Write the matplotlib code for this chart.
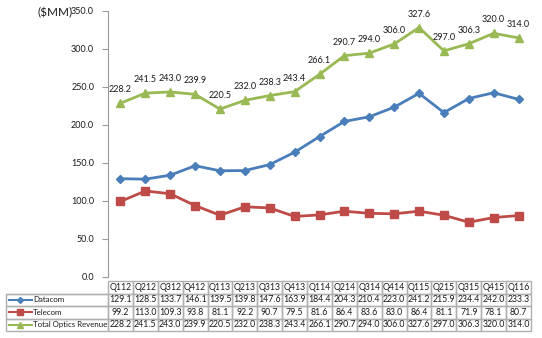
import matplotlib
matplotlib.use("Agg")
import matplotlib.pyplot as plt
from matplotlib.table import Table
from matplotlib.lines import Line2D

plt.rcParams['font.family'] = ['Lato', 'DejaVu Sans']

quarters = ["Q112", "Q212", "Q312", "Q412", "Q113", "Q213", "Q313", "Q413",
            "Q114", "Q214", "Q314", "Q414", "Q115", "Q215", "Q315", "Q415", "Q116"]
datacom = [129.1, 128.5, 133.7, 146.1, 139.5, 139.8, 147.6, 163.9, 184.4,
           204.3, 210.4, 223.0, 241.2, 215.9, 234.4, 242.0, 233.3]
telecom = [99.2, 113.0, 109.3, 93.8, 81.1, 92.2, 90.7, 79.5, 81.6, 86.4,
           83.6, 83.0, 86.4, 81.1, 71.9, 78.1, 80.7]
total = [228.2, 241.5, 243.0, 239.9, 220.5, 232.0, 238.3, 243.4, 266.1,
         290.7, 294.0, 306.0, 327.6, 297.0, 306.3, 320.0, 314.0]
series_names = ["Datacom", "Telecom", "Total Optics Revenue"]
yticks = [0, 50, 100, 150, 200, 250, 300, 350]

BLUE = "#4A7EBB"
RED = "#BE4B48"
GREEN = "#98B954"
colors = [BLUE, RED, GREEN]
markers = ["D", "s", "^"]
msizes = [4, 6, 6]

W, H = 542, 338
fig = plt.figure(figsize=(W / 100, H / 100), dpi=100)
ax_l, ax_r, ax_b, ax_t = 108, 531, 277, 10.5
ax = fig.add_axes([ax_l / W, (H - ax_b) / H, (ax_r - ax_l) / W, (ax_b - ax_t) / H])

n = len(quarters)
x = list(range(n))
for vals, c, m, ms in zip([datacom, telecom, total], colors, markers, msizes):
    ax.plot(x, vals, color=c, lw=2, marker=m, ms=ms, mfc=c, mec=c, zorder=3)

for xi, v in zip(x, total):
    ax.annotate(f"{v:.1f}", (xi, v), xytext=(0, 6.5), textcoords="offset points",
                ha="center", va="bottom", fontsize=6.5, color="#1a1a1a")

ax.set_xlim(-0.5, n - 0.5)
ax.set_ylim(0, 350)
ax.set_yticks(yticks)
ax.set_yticklabels([f"{t:.1f}" for t in yticks], fontsize=6.5, color="#1a1a1a")
ax.set_xticks([])
for s in ["top", "right", "bottom"]:
    ax.spines[s].set_visible(False)
ax.spines["left"].set_color("#9A9A9A")
ax.tick_params(axis="y", direction="out", length=4, color="#9A9A9A", pad=6)

fig.text(73 / W, (H - 13) / H, "($MM)", fontsize=8.5, ha="right", va="center", color="#1a1a1a")

# data table
axw = ax_r - ax_l
axh = ax_b - ax_t
t_left, t_top, t_bot = 6, 281, 331
x0 = (t_left - ax_l) / axw
y1 = (ax_b - t_top) / axh
y0 = (ax_b - t_bot) / axh
tbl = Table(ax, bbox=[x0, y0, (ax_r - t_left) / axw, y1 - y0])
label_w = ax_l - t_left
col_w = axw / n
rows = [datacom, telecom, total]
rh = 1.0
edge = "#B0B0B0"
for j, q in enumerate(quarters):
    c = tbl.add_cell(0, j + 1, width=col_w, height=rh, text=q, loc="center",
                     edgecolor=edge, facecolor="none")
    c.get_text().set_fontsize(6.3)
    c.get_text().set_color("#1a1a1a")
corner = tbl.add_cell(0, 0, width=label_w, height=rh, text="", edgecolor=edge, facecolor="none")
corner.visible_edges = "B"
for i, vals in enumerate(rows):
    c = tbl.add_cell(i + 1, 0, width=label_w, height=rh, text="", edgecolor=edge, facecolor="none")
    for j, v in enumerate(vals):
        c = tbl.add_cell(i + 1, j + 1, width=col_w, height=rh, text=f"{v:.1f}", loc="center",
                         edgecolor=edge, facecolor="none")
        c.get_text().set_fontsize(6.3)
        c.get_text().set_color("#1a1a1a")
tbl.auto_set_font_size(False)
for cell in tbl.get_celld().values():
    cell.PAD = 0.02
ax.add_table(tbl)

# legend keys in row labels
row_h = (t_bot - t_top) / 4
for i, (name, c, m, ms) in enumerate(zip(series_names, colors, markers, msizes)):
    yc = t_top + row_h * (i + 1.5)
    ya = (ax_b - yc) / axh
    xa1 = (9 - ax_l) / axw
    xa2 = (32 - ax_l) / axw
    xm = (20 - ax_l) / axw
    ax.add_line(Line2D([xa1, xa2], [ya, ya], transform=ax.transAxes, color=c, lw=1.5, clip_on=False))
    ax.add_line(Line2D([xm], [ya], transform=ax.transAxes, color=c, marker=m, ms=ms - 1,
                       mfc=c, mec=c, clip_on=False))
    ax.text((33 - ax_l) / axw, ya, name, transform=ax.transAxes, fontsize=5.7,
            ha="left", va="center", color="#1a1a1a", clip_on=False)

fig.savefig("out.png", dpi=100)
